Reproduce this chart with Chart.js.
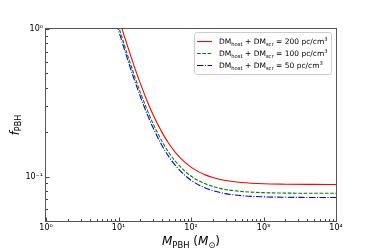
<!DOCTYPE html>
<html><head><meta charset="utf-8">
<script src="https://cdn.jsdelivr.net/npm/chart.js@4"></script>
<style>html,body{margin:0;padding:0;background:#fff;overflow:hidden}canvas{display:block}</style>
</head><body>
<canvas id="c" width="374" height="249"></canvas>
<script>
// ---- data ----
const massPBH = [9.4, 10, 11, 12, 14, 16, 20, 25, 30, 40, 50, 60, 80, 100, 130, 160, 200, 300, 500, 1000, 2000, 5000, 10000];
const fPBH200 = [1.334, 1.205, 1.033, 0.899, 0.710, 0.583, 0.428, 0.323, 0.2627, 0.1985, 0.1661, 0.1472, 0.1266, 0.1159, 0.1072, 0.1023, 0.0985, 0.0940, 0.0911, 0.0894, 0.0888, 0.0885, 0.0884];
const fPBH100 = [1.161, 1.048, 0.899, 0.782, 0.618, 0.507, 0.372, 0.281, 0.2285, 0.1727, 0.1445, 0.1281, 0.1101, 0.1008, 0.0933, 0.0890, 0.0857, 0.0818, 0.0793, 0.0778, 0.0773, 0.0771, 0.0771];
const fPBH50  = [1.087, 0.982, 0.842, 0.733, 0.579, 0.475, 0.349, 0.263, 0.2141, 0.1618, 0.1354, 0.1200, 0.1032, 0.0945, 0.0874, 0.0834, 0.0803, 0.0766, 0.0742, 0.0729, 0.0724, 0.0722, 0.0722];
const seriesDensity = ['200', '100', '50'];
const xTickValues = [1, 10, 100, 1000, 10000];
const xTickLabels = ['10⁰', '10¹', '10²', '10³', '10⁴'];
const yTickValues = [0.1, 1];
const yTickLabels = ['10⁻¹', '10⁰'];

const FONT = "'DejaVu Sans'";
const toPts = (ys) => massPBH.map((m, i) => ({x: m, y: ys[i]}));
const labelFor = (vals, labs, v) => {
  const i = vals.findIndex(t => Math.abs(Math.log10(t) - Math.log10(v)) < 1e-6);
  return i >= 0 ? labs[i] : '';
};

function fontFor(g, s) {
  const size = (g.sub || g.sup) ? s * 0.7 : s;
  return (g.it ? 'italic ' : '') + size + 'px ' + FONT;
}
function richWidth(ctx, segs, s) {
  let w = 0;
  for (const g of segs) { ctx.font = fontFor(g, s); w += ctx.measureText(g.t).width; }
  return w;
}
function drawRich(ctx, x, y, segs, s) {
  let cx = x;
  for (const g of segs) {
    ctx.font = fontFor(g, s);
    let dy = 0;
    if (g.sub) dy = s * 0.22;
    if (g.sup) dy = -s * 0.38;
    ctx.fillText(g.t, cx, y + dy);
    cx += ctx.measureText(g.t).width;
  }
}

const decor = {
  id: 'decor',
  afterDraw(chart) {
    const {ctx, chartArea: a, scales: {x, y}} = chart;
    ctx.save();
    // inward ticks
    ctx.strokeStyle = '#444'; ctx.lineWidth = 1;
    ctx.beginPath();
    for (let e = 0; e < 4; e++) for (let k = 1; k < 10; k++) {
      const px = Math.round(x.getPixelForValue(k * Math.pow(10, e))) + 0.5;
      const len = k === 1 ? 3.5 : 2;
      ctx.moveTo(px, a.bottom); ctx.lineTo(px, a.bottom - len);
    }
    for (let e = -2; e < 1; e++) for (let k = 1; k < 10; k++) {
      const v = k * Math.pow(10, e);
      if (v < 0.05 - 1e-9 || v > 1 + 1e-9) continue;
      const py = Math.round(y.getPixelForValue(v)) + 0.5;
      const len = k === 1 ? 3.5 : 2;
      ctx.moveTo(a.left, py); ctx.lineTo(a.left + len, py);
    }
    ctx.stroke();
    // spines
    ctx.strokeStyle = '#555';
    ctx.strokeRect(Math.round(a.left) - 0.5, Math.round(a.top) - 0.5, Math.round(a.right - a.left) + 1, Math.round(a.bottom - a.top) + 1);

    // legend
    const lx = 194.5, ly = 32.5, lw = 137, lh = 42;
    ctx.fillStyle = 'rgba(255,255,255,0.85)';
    ctx.strokeStyle = '#cccccc';
    ctx.beginPath();
    ctx.roundRect(lx, ly, lw, lh, 2);
    ctx.fill(); ctx.stroke();
    chart.data.datasets.forEach((ds, i) => {
      const cy = 41 + i * 12;
      ctx.strokeStyle = ds.borderColor; ctx.lineWidth = 1.1;
      ctx.setLineDash(ds.borderDash || []);
      ctx.beginPath(); ctx.moveTo(197, cy + 0.5); ctx.lineTo(212, cy + 0.5); ctx.stroke();
      ctx.setLineDash([]);
      ctx.fillStyle = '#000'; ctx.textBaseline = 'alphabetic'; ctx.textAlign = 'left';
      drawRich(ctx, 219, cy + 3, [
        {t: 'DM'}, {t: 'host', sub: true}, {t: ' + DM'}, {t: 'scr', sub: true},
        {t: ' = ' + seriesDensity[i] + ' pc/cm'}, {t: '3', sup: true}
      ], 7.5);
    });

    // axis titles
    ctx.fillStyle = '#000'; ctx.textAlign = 'left'; ctx.textBaseline = 'alphabetic';
    const xs = [{t: 'M', it: true}, {t: 'PBH', sub: true}, {t: ' ('}, {t: 'M', it: true}, {t: '⊙', sub: true}, {t: ')'}];
    const xw = richWidth(ctx, xs, 12);
    drawRich(ctx, (a.left + a.right) / 2 - xw / 2, 245, xs, 12);
    const ys = [{t: 'f', it: true}, {t: 'PBH', sub: true}];
    const yw = richWidth(ctx, ys, 11.5);
    ctx.translate(18.5, (a.top + a.bottom) / 2);
    ctx.rotate(-Math.PI / 2);
    drawRich(ctx, -yw / 2, 0, ys, 11.5);
    ctx.restore();
  }
};

new Chart(document.getElementById('c'), {
  type: 'line',
  data: {
    datasets: [
      {label: 'DM_host + DM_scr = 200 pc/cm³', data: toPts(fPBH200), borderColor: '#ff0000', borderWidth: 1.1, pointRadius: 0, cubicInterpolationMode: 'monotone'},
      {label: 'DM_host + DM_scr = 100 pc/cm³', data: toPts(fPBH100), borderColor: '#008000', borderWidth: 1.1, borderDash: [3.7, 1.6], pointRadius: 0, cubicInterpolationMode: 'monotone'},
      {label: 'DM_host + DM_scr = 50 pc/cm³', data: toPts(fPBH50), borderColor: '#0000ff', borderWidth: 1.1, borderDash: [6.4, 1.6, 1, 1.6], pointRadius: 0, cubicInterpolationMode: 'monotone'}
    ]
  },
  options: {
    responsive: false,
    animation: false,
    devicePixelRatio: 1,
    layout: {padding: {top: 29, right: 38, left: 0, bottom: 0}},
    plugins: {legend: {display: false}, tooltip: {enabled: false}},
    scales: {
      x: {
        type: 'logarithmic', min: 1, max: 10000,
        grid: {display: false, drawTicks: false},
        border: {display: false},
        afterBuildTicks: (s) => { s.ticks = xTickValues.map(v => ({value: v})); },
        afterFit: (s) => { s.height = 28; },
        ticks: {autoSkip: false, maxRotation: 0, padding: 2, color: '#000', font: {family: FONT, size: 8},
          callback: (v) => labelFor(xTickValues, xTickLabels, v)}
      },
      y: {
        type: 'logarithmic', min: 0.05, max: 1,
        grid: {display: false, drawTicks: false},
        border: {display: false},
        afterBuildTicks: (s) => { s.ticks = yTickValues.map(v => ({value: v})); },
        afterFit: (s) => { s.width = 46; },
        ticks: {autoSkip: false, padding: 3, color: '#000', font: {family: FONT, size: 8},
          callback: (v) => labelFor(yTickValues, yTickLabels, v)}
      }
    }
  },
  plugins: [decor]
});
</script>
</body></html>
